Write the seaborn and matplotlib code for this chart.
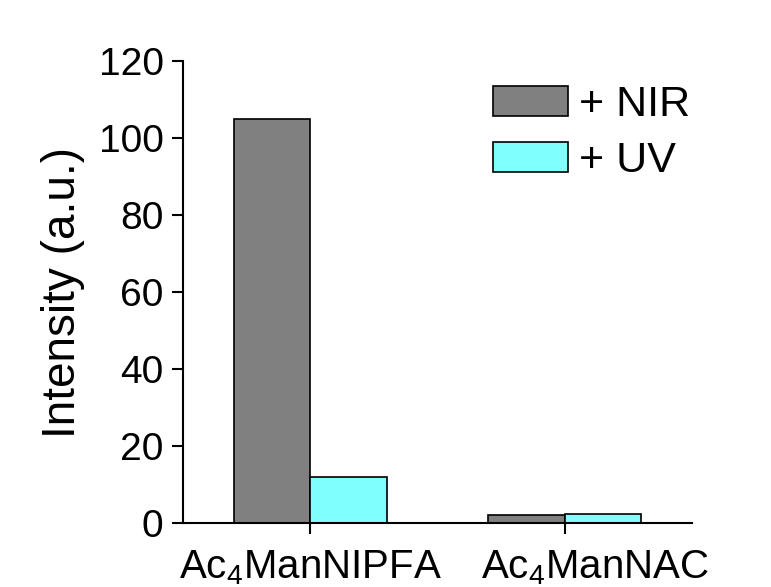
import pandas as pd
import seaborn as sns
import matplotlib.pyplot as plt
from matplotlib.transforms import ScaledTranslation

# ------------------------------------------------------------------------------------------------ #
samples = ["Ac$_4$ManNIPFA", "Ac$_4$ManNAC"]
treatments = ["+ NIR", "+ UV"]
nir_values = [105, 2]
uv_values = [12, 2.4]
colors = ["#808080", "#80FFFF"]
# ------------------------------------------------------------------------------------------------ #

sns.set_style("ticks")
plt.rcParams["font.family"] = ["Liberation Sans", "DejaVu Sans"]
plt.rcParams["mathtext.default"] = "regular"
plt.rcParams["text.color"] = "black"
plt.rcParams["axes.labelcolor"] = "black"
plt.rcParams["xtick.color"] = "black"
plt.rcParams["ytick.color"] = "black"

df = pd.DataFrame(
    {
        "sample": samples * 2,
        "treatment": [treatments[0]] * 2 + [treatments[1]] * 2,
        "intensity": nir_values + uv_values,
    }
)

fig = plt.figure(figsize=(7.71, 5.87), dpi=100)
ax = fig.add_axes([0.2374, 0.109, 0.6601, 0.7871])

sns.barplot(
    data=df,
    x="sample",
    y="intensity",
    hue="treatment",
    palette=colors,
    saturation=1,
    width=0.6,
    edgecolor="black",
    linewidth=1.2,
    ax=ax,
)

ax.set_xlim(-0.5, 1.5)
ax.set_ylim(0, 120)
ax.set_yticks(range(0, 121, 20))
ax.set_xlabel("")
ax.set_ylabel("Intensity (a.u.)", fontsize=33, labelpad=10)
ax.tick_params(axis="y", labelsize=28, length=8, width=1.5, direction="out", pad=6)
ax.tick_params(axis="x", labelsize=29, length=8, width=1.5, direction="out", pad=10)
for side in ["top", "right"]:
    ax.spines[side].set_visible(False)
for side in ["left", "bottom"]:
    ax.spines[side].set_linewidth(1.5)
    ax.spines[side].set_color("black")

# the second category label sits a little right of its tick in the original
lbl = ax.get_xticklabels()[1]
lbl.set_transform(lbl.get_transform() + ScaledTranslation(0.30, 0, fig.dpi_scale_trans))

ax.legend(
    loc="upper right",
    bbox_to_anchor=(0.996, 0.947),
    frameon=False,
    fontsize=31,
    borderpad=0,
    borderaxespad=0,
    handlelength=1.74,
    handleheight=0.70,
    handletextpad=0.25,
    labelspacing=0.36,
)

fig.savefig("out.png", dpi=100)
